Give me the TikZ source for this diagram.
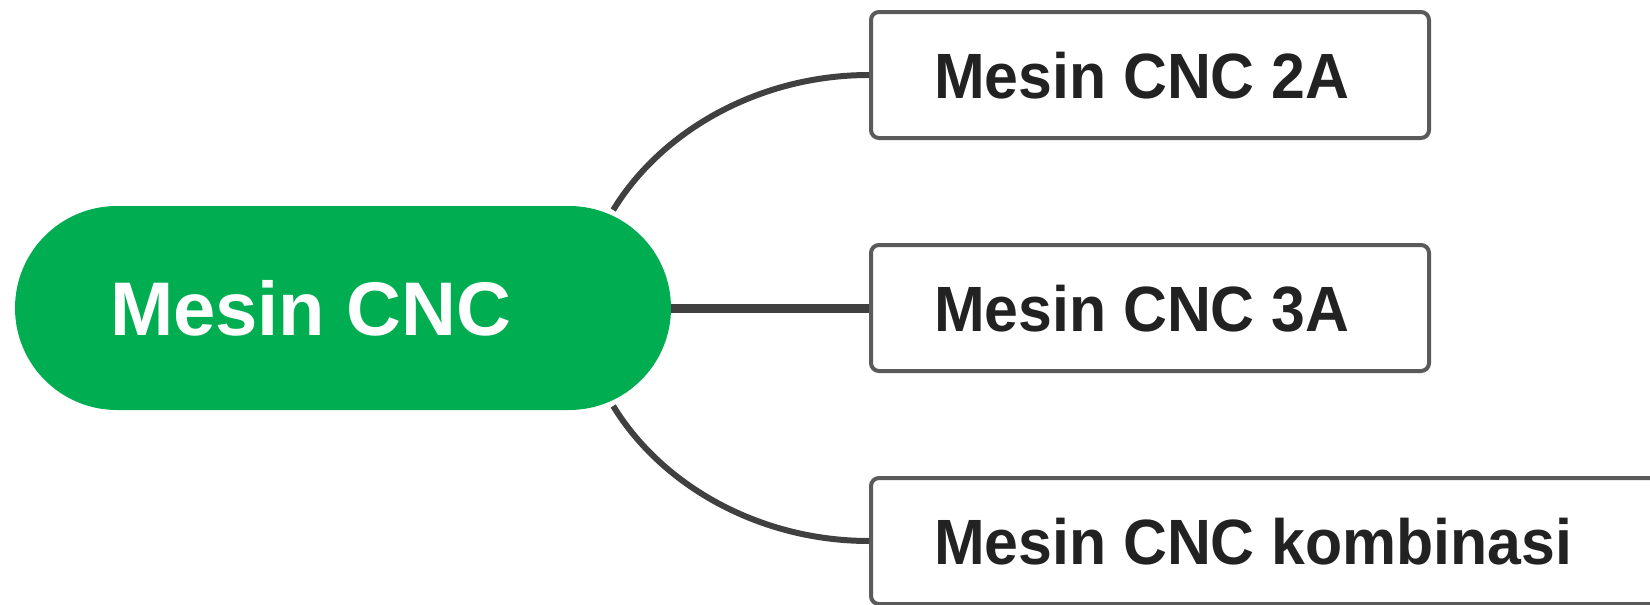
\documentclass[tikz,border=0pt]{standalone}
\usepackage{fontspec}
\usepackage{graphicx}
\setmainfont{Liberation Sans}
\usetikzlibrary{shapes.misc,calc}
\definecolor{cncgreen}{RGB}{0,173,80}
\definecolor{linegray}{RGB}{64,64,64}
\definecolor{boxgray}{RGB}{90,90,90}
\definecolor{textdark}{RGB}{34,34,34}
\newcommand{\leaftext}[2]{\makebox[#1][l]{\scalebox{0.95}[1]{#2}}}
\begin{document}
\begin{tikzpicture}[x=1pt,y=-1pt,
  rootnode/.style={rounded rectangle, fill=cncgreen, minimum width=656pt, minimum height=204pt, inner sep=0pt, text=white, font=\fontsize{76}{90}\selectfont\bfseries},
  leafnode/.style={draw=boxgray, line width=4pt, rounded corners=8pt, fill=white, anchor=west, minimum height=126pt, inner xsep=63pt, inner ysep=0pt, text=textdark, font=\fontsize{64}{70}\selectfont\bfseries, text height=46pt, text depth=0pt},
  link/.style={draw=linegray, line width=6pt}]
\useasboundingbox (0,0) rectangle (1650,605);
\clip (0,0) rectangle (1650,605);
\node[rootnode] (root) at (343,308) {\makebox[466pt][l]{Mesin CNC}};
\node[leafnode] (b1) at (869,75) {\leaftext{432pt}{Mesin CNC 2A}};
\node[leafnode] (b2) at (869,308) {\leaftext{432pt}{Mesin CNC 3A}};
\node[leafnode] (b3) at (869,541) {\leaftext{704pt}{Mesin CNC kombinasi}};
\draw[link] ($(root.east)+(-58,-98)$) .. controls (662,130) and (760,75) .. (b1.west);
\draw[link, line width=9pt] (root.east) -- (b2.west);
\draw[link] ($(root.east)+(-58,98)$) .. controls (662,486) and (760,541) .. (b3.west);
\end{tikzpicture}
\end{document}
